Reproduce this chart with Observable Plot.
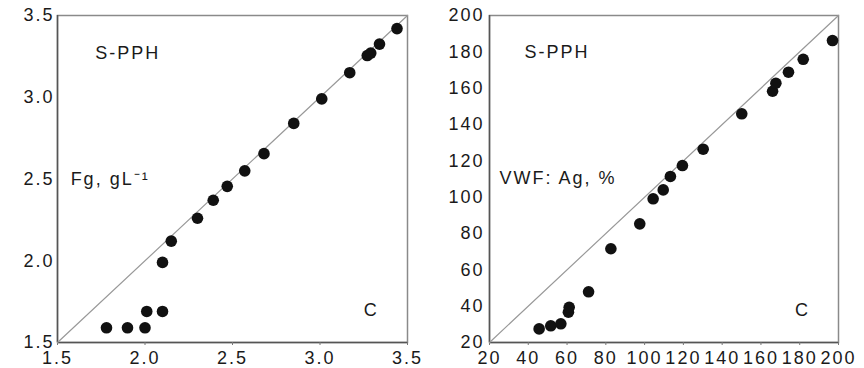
<!DOCTYPE html>
<html>
<head>
<meta charset="utf-8">
<script src="https://cdn.jsdelivr.net/npm/d3@7"></script>
<script src="https://cdn.jsdelivr.net/npm/@observablehq/plot@0.6"></script>
<style>
  html, body { margin: 0; padding: 0; background: #fff; }
  #wrap { display: flex; width: 864px; height: 368px; }
  #wrap svg text { letter-spacing: 2px; }
</style>
</head>
<body>
<div id="wrap"></div>
<script>
// Panel 1: Fibrinogen (Fg, g/L), S-PPH vs C
const fgX = [1.78, 1.90, 2.00, 2.01, 2.10, 2.10, 2.15, 2.30, 2.39, 2.47, 2.57, 2.68, 2.85, 3.01, 3.17, 3.27, 3.29, 3.34, 3.44];
const fgY = [1.59, 1.59, 1.59, 1.69, 1.69, 1.99, 2.12, 2.26, 2.37, 2.455, 2.55, 2.655, 2.84, 2.99, 3.15, 3.255, 3.27, 3.325, 3.42];
const fgTicks = [1.5, 2.0, 2.5, 3.0, 3.5];
const fgDomain = [1.5, 3.5];

// Panel 2: VWF:Ag (%), S-PPH vs C
const vwfX = [45.6, 51.6, 56.8, 60.7, 61.1, 71.1, 82.6, 97.5, 104.4, 109.6, 113.3, 119.5, 130.2, 150.1, 166.0, 167.7, 174.2, 181.8, 196.9];
const vwfY = [27.5, 29.2, 30.3, 36.7, 39.4, 47.9, 71.6, 85.3, 99.1, 104.0, 111.4, 117.4, 126.4, 145.9, 158.3, 162.7, 168.8, 175.9, 186.2];
const vwfTicks = [20, 40, 60, 80, 100, 120, 140, 160, 180, 200];
const vwfDomain = [20, 200];

// Annotation labels
const fgLabels = ["S-PPH", "Fg, gL\u207B\u00B9", "C"];
const fgLabelX = [1.715, 1.575, 3.25];
const fgLabelY = [3.27, 2.5, 1.695];
const vwfLabels = ["S-PPH", "VWF: Ag, %", "C"];
const vwfLabelX = [38, 25.2, 177.5];
const vwfLabelY = [179.6, 110.3, 37.6];

function panel(xs, ys, ticks, domain, fmt, labels, lx, ly, marginRight, pad) {
  const pts = xs.map((x, i) => ({x, y: ys[i]}));
  const diag = domain.map(v => ({x: v, y: v}));
  const ann = labels.map((t, i) => ({t, x: lx[i], y: ly[i]}));
  return Plot.plot({
    width: 432,
    height: 368,
    marginLeft: 57,
    marginRight: marginRight,
    marginTop: 15,
    marginBottom: 26,
    style: {fontFamily: "'Liberation Sans', Arial, Helvetica, sans-serif", fontSize: "18px", color: "#1a1a1a", background: "#fff"},
    x: {domain, ticks, tickFormat: fmt, label: null},
    y: {domain, ticks, tickFormat: fmt, label: null},
    marks: [
      Plot.frame({stroke: "#8a8a8a", strokeWidth: 1.5}),
      Plot.ruleX([domain[0]], {stroke: "#555", strokeWidth: 1.5}),
      Plot.ruleY([domain[0]], {stroke: "#555", strokeWidth: 1.5}),
      Plot.axisX({ticks, tickFormat: fmt, tickSize: 3, tickPadding: 6, stroke: "#777", fontSize: 18, label: null}),
      Plot.axisY({ticks, tickFormat: fmt, tickSize: 0, tickPadding: pad, fontSize: 18, label: null}),
      Plot.line(diag, {x: "x", y: "y", stroke: "#999", strokeWidth: 1.2}),
      Plot.dot(pts, {x: "x", y: "y", r: 5.8, fill: "#111", stroke: "none"}),
      Plot.text(ann, {x: "x", y: "y", text: "t", textAnchor: "start", fontSize: 18, fill: "#1a1a1a"})
    ]
  });
}

const wrap = document.getElementById("wrap");
wrap.appendChild(panel(fgX, fgY, fgTicks, fgDomain, d3.format(".1f"), fgLabels, fgLabelX, fgLabelY, 25, 3));
wrap.appendChild(panel(vwfX, vwfY, vwfTicks, vwfDomain, d3.format("d"), vwfLabels, vwfLabelX, vwfLabelY, 26, 5));
</script>
</body>
</html>
